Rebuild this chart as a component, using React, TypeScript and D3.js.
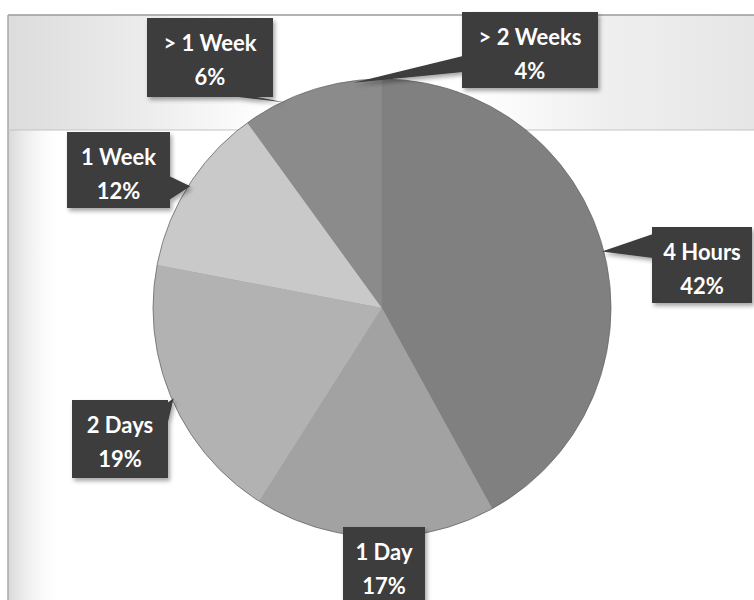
import React from "react";
import * as d3 from "d3";

// ---- data ----
const categories = ["4 Hours", "1 Day", "2 Days", "1 Week", "> 1 Week", "> 2 Weeks"];
const values = [42, 17, 19, 12, 6, 4];
const percentLabels = ["42%", "17%", "19%", "12%", "6%", "4%"];

// ---- styling / layout (not data) ----
const sliceColors = ["#808080", "#a2a2a2", "#b2b2b2", "#c9c9c9", "#8b8b8b", "#8b8b8b"];
// label boxes: [x, y, w, h], pointer base: side + range along that side
const boxLayout: { box: [number, number, number, number]; side: string; b0: number; b1: number }[] = [
  { box: [652, 227, 100, 76], side: "left", b0: 234, b1: 258 },
  { box: [343, 527, 82, 80], side: "top", b0: 370, b1: 382 },
  { box: [72, 400, 96, 78], side: "right", b0: 403, b1: 426 },
  { box: [67, 132, 103, 76], side: "right", b0: 176, b1: 200 },
  { box: [147, 18, 126, 79], side: "bottom", b0: 230, b1: 252 },
  { box: [462, 12, 136, 76], side: "left", b0: 56, b1: 72 },
];

const W = 754;
const H = 600;
const cx = 382;
const cy = 308;
const R = 229;

export default function App() {
  const pie = d3
    .pie<number>()
    .sort(null)
    .startAngle(0)
    .endAngle(2 * Math.PI)
    .value((d) => d);
  const arcs = pie(values);
  const arc = d3.arc<d3.PieArcDatum<number>>().innerRadius(0).outerRadius(R);
  const rim = d3.arc<d3.PieArcDatum<number>>().innerRadius(R - 2).outerRadius(R - 2);

  return (
    <svg
      width={W}
      height={H}
      style={{ position: "absolute", left: 0, top: 0, display: "block" }}
    >
      <defs>
        <linearGradient id="band" x1="0" x2="1" y1="0" y2="0">
          <stop offset="0%" stopColor="#dcdcdc" />
          <stop offset="18%" stopColor="#ececec" />
          <stop offset="35%" stopColor="#ffffff" />
          <stop offset="62%" stopColor="#ffffff" />
          <stop offset="80%" stopColor="#efefef" />
          <stop offset="100%" stopColor="#e6e6e6" />
        </linearGradient>
        <linearGradient id="leftEdge" x1="0" x2="1" y1="0" y2="0">
          <stop offset="0%" stopColor="#d8d8d8" />
          <stop offset="100%" stopColor="#ffffff" stopOpacity={0} />
        </linearGradient>
        <filter id="shadow" x="-20%" y="-20%" width="150%" height="150%">
          <feDropShadow dx="2" dy="3" stdDeviation="2" floodColor="#000" floodOpacity="0.35" />
        </filter>
      </defs>
      <rect x={0} y={0} width={W} height={H} fill="#ffffff" />
      {/* frame background */}
      <rect x={8} y={15} width={W - 8} height={115} fill="url(#band)" />
      <rect x={8} y={130} width={55} height={H - 130} fill="url(#leftEdge)" />
      <line x1={8} x2={W} y1={15} y2={15} stroke="#9a9a9a" strokeWidth={1.5} />
      <line x1={8} x2={8} y1={15} y2={H} stroke="#a8a8a8" strokeWidth={1.5} />
      <line x1={8} x2={W} y1={130} y2={130} stroke="#c4c4c4" strokeWidth={1.2} />

      {/* pie */}
      <g transform={`translate(${cx},${cy})`}>
        <circle r={R - 0.5} fill="#8b8b8b" />
        {arcs.map((a, i) => (
          <path key={categories[i]} d={arc(a) || ""} fill={sliceColors[i]} />
        ))}
        <circle r={R} fill="none" stroke="#6a6a6a" strokeWidth={0.8} />
      </g>

      {/* labels */}
      {arcs.map((a, i) => {
        const [tx0, ty0] = rim.centroid(a);
        const tx = tx0 + cx;
        const ty = ty0 + cy;
        const L = boxLayout[i];
        const [bx, by, bw, bh] = L.box;
        let p1: [number, number];
        let p2: [number, number];
        if (L.side === "left") {
          p1 = [bx + 1, L.b0];
          p2 = [bx + 1, L.b1];
        } else if (L.side === "right") {
          p1 = [bx + bw - 1, L.b0];
          p2 = [bx + bw - 1, L.b1];
        } else if (L.side === "top") {
          p1 = [L.b0, by + 1];
          p2 = [L.b1, by + 1];
        } else {
          p1 = [L.b0, by + bh - 1];
          p2 = [L.b1, by + bh - 1];
        }
        const pointer = `M${p1[0]},${p1[1]}L${tx},${ty}L${p2[0]},${p2[1]}Z`;
        return (
          <g key={"lab" + i}>
            <g filter="url(#shadow)">
              <path d={pointer} fill="#3c3c3c" />
              <rect x={bx} y={by} width={bw} height={bh} fill="#3c3c3c" />
            </g>
            <text
              x={bx + bw / 2}
              y={by + 24}
              textAnchor="middle"
              dominantBaseline="central"
              fill="#ffffff"
              fontFamily="Lato, 'Open Sans', sans-serif"
              fontWeight="bold"
              fontSize={22}
            >
              {categories[i]}
            </text>
            <text
              x={bx + bw / 2}
              y={by + 58}
              textAnchor="middle"
              dominantBaseline="central"
              fill="#ffffff"
              fontFamily="Lato, 'Open Sans', sans-serif"
              fontWeight="bold"
              fontSize={22}
            >
              {percentLabels[i]}
            </text>
          </g>
        );
      })}
    </svg>
  );
}
